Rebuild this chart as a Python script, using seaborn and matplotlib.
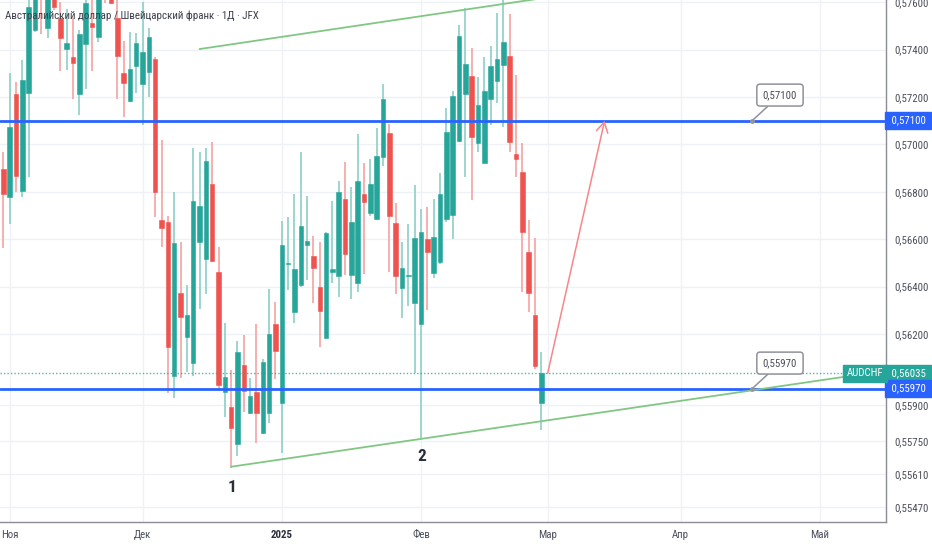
import numpy as np
import pandas as pd
import matplotlib
matplotlib.use("Agg")
import matplotlib.pyplot as plt
import matplotlib.transforms as mtransforms
import seaborn as sns

# AUDCHF, дневные свечи с 31.10.2024 по 28.02.2025
opens = [0.56896, 0.56778, 0.57213, 0.56804, 0.57217, 0.57482, 0.57660, 0.57491, 0.57634, 0.57533,
         0.57402, 0.57369, 0.57213, 0.57423, 0.57512, 0.57453, 0.57643, 0.57613, 0.57533, 0.57301,
         0.57183, 0.57331, 0.57255, 0.57305, 0.57360, 0.56681, 0.56673, 0.56024, 0.56374, 0.56188,
         0.56078, 0.56589, 0.56517, 0.56833, 0.56462, 0.55956, 0.55893, 0.55737, 0.56070, 0.55868,
         0.55956, 0.55783, 0.55868, 0.56243, 0.55910, 0.56496, 0.56293, 0.56407, 0.56576, 0.56530,
         0.56399, 0.56184, 0.56462, 0.56445, 0.56770, 0.56449, 0.56416, 0.56791, 0.56711, 0.56686,
         0.56947, 0.57048, 0.56669, 0.56395, 0.56445, 0.56331, 0.56243, 0.56601, 0.56458, 0.56504,
         0.56686, 0.56702, 0.57014, 0.57213, 0.57288, 0.57006, 0.56922, 0.57192, 0.57267, 0.57335,
         0.57373, 0.56960, 0.56884, 0.56546, 0.56281, 0.55910]
highs = [0.56968, 0.57301, 0.57263, 0.57356, 0.57626, 0.57651, 0.57672, 0.57651, 0.57651, 0.57600,
         0.57571, 0.57533, 0.57482, 0.57617, 0.57613, 0.57630, 0.57651, 0.57626, 0.57617, 0.57436,
         0.57474, 0.57470, 0.57600, 0.57491, 0.57369, 0.57019, 0.56698, 0.56799, 0.56589, 0.56407,
         0.56985, 0.56968, 0.56985, 0.57010, 0.56567, 0.56247, 0.56049, 0.56171, 0.56196, 0.56015,
         0.56243, 0.56095, 0.56390, 0.56336, 0.56677, 0.56694, 0.56791, 0.56968, 0.56782, 0.56614,
         0.56589, 0.56631, 0.56761, 0.56846, 0.56926, 0.56820, 0.57044, 0.56922, 0.56939, 0.57069,
         0.57255, 0.57086, 0.56753, 0.56589, 0.56664, 0.56829, 0.56728, 0.56736, 0.56770, 0.56880,
         0.57154, 0.57225, 0.57504, 0.57575, 0.57407, 0.57284, 0.57369, 0.57415, 0.57554, 0.57617,
         0.57550, 0.57293, 0.57006, 0.56681, 0.56605, 0.56125]
lows = [0.56563, 0.56664, 0.56799, 0.56778, 0.56863, 0.57474, 0.57466, 0.57449, 0.57567, 0.57310,
        0.57314, 0.57192, 0.57124, 0.57234, 0.57310, 0.57432, 0.57596, 0.57592, 0.57192, 0.57116,
        0.57179, 0.57217, 0.57082, 0.57200, 0.56694, 0.56567, 0.55952, 0.55931, 0.56015, 0.56040,
        0.56024, 0.56306, 0.56369, 0.56504, 0.55969, 0.55851, 0.55636, 0.55686, 0.55872, 0.55863,
        0.55741, 0.55779, 0.55825, 0.56011, 0.55699, 0.56386, 0.56247, 0.56399, 0.56428, 0.56331,
        0.56146, 0.56184, 0.56416, 0.56357, 0.56449, 0.56348, 0.56378, 0.56454, 0.56698, 0.56681,
        0.56909, 0.56462, 0.56369, 0.56268, 0.56319, 0.56036, 0.55762, 0.56302, 0.56437, 0.56496,
        0.56673, 0.56601, 0.57010, 0.56863, 0.56766, 0.56968, 0.56922, 0.57082, 0.57175, 0.57073,
        0.56968, 0.56863, 0.56378, 0.56293, 0.56053, 0.55796]
closes = [0.56791, 0.57073, 0.56867, 0.57272, 0.57579, 0.57630, 0.57626, 0.57634, 0.57579, 0.57449,
          0.57428, 0.57343, 0.57466, 0.57596, 0.57495, 0.57617, 0.57622, 0.57596, 0.57373, 0.57259,
          0.57318, 0.57428, 0.57390, 0.57453, 0.56799, 0.56648, 0.56146, 0.56584, 0.56272, 0.56281,
          0.56761, 0.56740, 0.56930, 0.56508, 0.55986, 0.56019, 0.55804, 0.56125, 0.55960, 0.55939,
          0.55868, 0.56083, 0.56201, 0.56129, 0.56576, 0.56500, 0.56475, 0.56656, 0.56593, 0.56479,
          0.56298, 0.56627, 0.56475, 0.56799, 0.56538, 0.56673, 0.56846, 0.56757, 0.56833, 0.56951,
          0.57192, 0.56698, 0.56445, 0.56479, 0.56449, 0.56605, 0.56631, 0.56546, 0.56610, 0.56791,
          0.57052, 0.57204, 0.57457, 0.57339, 0.57031, 0.57166, 0.57225, 0.57331, 0.57360, 0.57432,
          0.57010, 0.56939, 0.56631, 0.56374, 0.56066, 0.56035]

level_top = 0.57100
level_bottom = 0.55970
last_price = 0.56035

price_ticks = [0.576, 0.574, 0.572, 0.570, 0.568, 0.566, 0.564, 0.562,
               0.559, 0.5575, 0.5561, 0.5547]
month_names = {11: "Ноя", 12: "Дек", 1: "2025", 2: "Фев", 3: "Мар", 4: "Апр", 5: "Май"}

# трендовые линии (номер свечи, цена)
upper_x = [31, 85]
upper_y = [0.57402, 0.57616]
lower_x = [36, 139.5]
lower_y = [0.55641, 0.56046]
arrow_x = [86, 95]
arrow_y = [0.56035, 0.57100]

title = "Австралийский доллар / Швейцарский франк · 1Д · JFX"

# календарь торговых дней (без 1 января)
days = pd.bdate_range("2024-10-31", "2025-05-30")
days = days[days != pd.Timestamp("2025-01-01")]
month_idx = [i for i in range(1, len(days)) if days[i].month != days[i - 1].month]
month_lbl = [month_names[days[i].month] for i in month_idx]

df = pd.DataFrame({"open": opens, "high": highs, "low": lows, "close": closes})
df["i"] = np.arange(len(df))
df["up"] = df["close"] >= df["open"]

GREEN = "#26a69a"
RED = "#ef5350"
BLUE = "#2962ff"
TXT = "#4a4e59"

sns.set_theme(style="white")
plt.rcParams["font.family"] = ["Roboto Condensed", "Roboto", "DejaVu Sans"]

fig = plt.figure(figsize=(9.32, 5.5), dpi=100)
ax = fig.add_axes([0, 28 / 550, 886 / 932, 522 / 550])

ax.set_xlim(-0.52, 139.45)
ax.set_ylim(0.554079, 0.576089)

# сетка
ax.set_yticks(price_ticks)
ax.set_xticks(month_idx)
ax.grid(True, color="#eef1f6", lw=1, zorder=0)

# свечи
body_col = np.where(df["up"], GREEN, RED)
wick_col = np.where(df["up"], "#8ccfc7", "#f5a3a1")
ax.vlines(df["i"], df["low"], df["high"], colors=wick_col, lw=1.2, zorder=2)
bottom = df[["open", "close"]].min(axis=1)
height = (df["close"] - df["open"]).abs().clip(lower=0.00004)
ax.bar(df["i"], height, bottom=bottom, width=0.72, color=body_col,
       edgecolor=body_col, linewidth=0.4, zorder=3)

# горизонтальные уровни
ax.axhline(level_top, color=BLUE, lw=2, zorder=4)
ax.axhline(level_bottom, color=BLUE, lw=2, zorder=4)
ax.axhline(last_price, color=GREEN, lw=1, ls=(0, (1, 1.5)), alpha=0.8, zorder=4)

# канал
sns.lineplot(x=upper_x, y=upper_y, ax=ax, color="#81c784", lw=1.3, zorder=5)
sns.lineplot(x=lower_x, y=lower_y, ax=ax, color="#81c784", lw=1.3, zorder=5)

# прогноз
ax.annotate("", xy=(arrow_x[1], arrow_y[1]), xytext=(arrow_x[0], arrow_y[0]),
            arrowprops=dict(arrowstyle="->,head_length=0.6,head_width=0.35",
                            color="#f7868a", lw=1.1, shrinkA=0, shrinkB=0), zorder=6)

# выноски с ценой
for lvl, ty in [(level_top, 0.57208), (level_bottom, 0.56078)]:
    ax.plot([118.3], [lvl], marker="o", ms=2.5, color="#9598a1", zorder=7)
    ax.annotate(f"{lvl:.5f}".replace(".", ","), xy=(118.3, lvl), xytext=(122.7, ty),
                ha="center", va="center", fontsize=7.8, color=TXT,
                bbox=dict(boxstyle="round,pad=0.55,rounding_size=0.3", fc="white",
                          ec="#8f929b", lw=1.1),
                arrowprops=dict(arrowstyle="-", color="#8f929b", lw=1.1,
                                shrinkA=0, shrinkB=0), zorder=7)

# точки 1 и 2
ax.text(36.1, 0.55555, "1", ha="center", va="center", fontsize=12.5,
        fontweight="bold", color="#2a2e39", zorder=7)
ax.text(66.1, 0.55682, "2", ha="center", va="center", fontsize=12.5,
        fontweight="bold", color="#2a2e39", zorder=7)

# заголовок
ax.text(0.006, 0.969, title, transform=ax.transAxes, ha="left", va="center",
        fontsize=7.9, color="#3b3f4a", zorder=8)

# оси
ax.yaxis.tick_right()
ax.set_yticklabels([f"{v:.5f}".replace(".", ",") for v in price_ticks])
ax.set_xticklabels(month_lbl)
ax.tick_params(axis="y", length=0, pad=6, labelsize=7.8, labelcolor=TXT)
ax.tick_params(axis="x", length=0, pad=6, labelsize=7.8, labelcolor=TXT)
for lab in ax.get_xticklabels():
    if lab.get_text() == "2025":
        lab.set_fontweight("bold")
        lab.set_color("#2a2e39")
for side in ["left", "top"]:
    ax.spines[side].set_visible(False)
for side in ["right", "bottom"]:
    ax.spines[side].set_color("#8a8d96")
    ax.spines[side].set_linewidth(1)

# метки на шкале цен
blend = mtransforms.blended_transform_factory(ax.transAxes, ax.transData)
for lvl, txt, col in [(level_top, "0,57100", BLUE), (last_price, "0,56035", GREEN),
                      (level_bottom, "0,55970", BLUE)]:
    ax.text(1.003, lvl, " " + txt + " ", transform=blend, ha="left", va="center",
            fontsize=7.8, color="white", clip_on=False, zorder=10,
            bbox=dict(boxstyle="square,pad=0.3", fc=col, ec=col))
ax.text(0.997, last_price, "AUDCHF", transform=blend, ha="right", va="center",
        fontsize=7.8, color="white", clip_on=False, zorder=10,
        bbox=dict(boxstyle="square,pad=0.3", fc=GREEN, ec=GREEN))

fig.savefig("out.png", dpi=100, facecolor="white")
